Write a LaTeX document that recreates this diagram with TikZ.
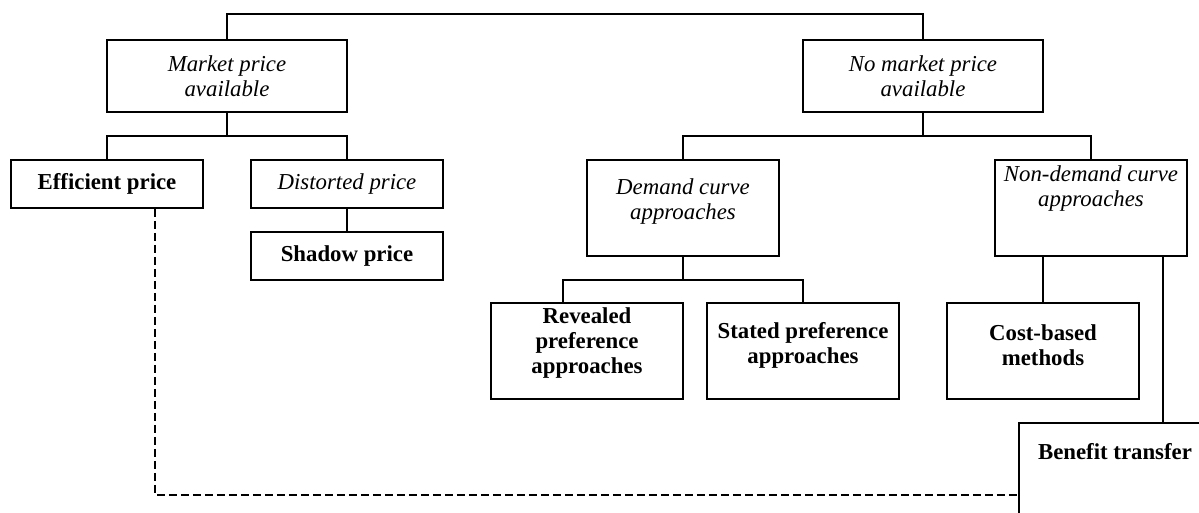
\documentclass[tikz,border=0pt]{standalone}
\usepackage{fontspec}
\setmainfont{Liberation Serif}
\begin{document}
\begin{tikzpicture}[x=1pt,y=-1pt,
  box/.style={draw, line width=1.6pt, inner sep=0pt, minimum width=192pt, minimum height=96pt},
  wbox/.style={box, minimum width=240pt, minimum height=72pt},
  sbox/.style={box, minimum height=48pt},
  txt/.style={inner sep=0pt, align=center, font=\fontsize{22.8}{25}\selectfont},
  itxt/.style={txt, font=\fontsize{22.8}{25}\selectfont\itshape},
  btxt/.style={txt, font=\fontsize{22.8}{25}\selectfont\bfseries},
  conn/.style={line width=1.6pt},
  dconn/.style={line width=1.6pt, dash pattern=on 8pt off 4pt}]
\useasboundingbox (0,0) rectangle (1199,513);
\clip (0,0) rectangle (1199,513);
% boxes
\node[wbox] (mkt) at (227,76) {};
\node[wbox] (nom) at (923,76) {};
\node[sbox] (eff) at (107,184) {};
\node[sbox] (dis) at (347,184) {};
\node[sbox] (sha) at (347,256) {};
\node[box] (dem) at (683,208) {};
\node[box] (nond) at (1091,208) {};
\node[box] (rev) at (587,351) {};
\node[box] (sta) at (803,351) {};
\node[box] (cost) at (1043,351) {};
\node[box] (ben) at (1115,471) {};
% texts
\node[itxt] (mktT) at (227,76) {Market price\\available};
\node[itxt] (nomT) at (923,76) {No market price\\available};
\node[btxt] (effT) at (107,184) {Efficient price};
\node[itxt] (disT) at (347,184) {Distorted price};
\node[btxt] (shaT) at (347,256) {Shadow price};
\node[itxt] (demT) at (683,202) {Demand curve\\approaches};
\node[itxt] (nondT) at (1091,189) {Non-demand curve\\approaches};
\node[btxt] (revT) at (587,343) {Revealed\\preference\\approaches};
\node[btxt] (staT) at (803,345.5) {Stated preference\\approaches};
\node[btxt] (costT) at (1043,345.5) {Cost-based\\methods};
\node[btxt] (benT) at (1115,452) {Benefit transfer};
% connectors
\draw[conn] (mkt.north) -- ++(0,-25) -| (nom.north);
\draw[conn] (mkt.south) -- ++(0,23) coordinate (m1);
\draw[conn] (eff.north) |- (m1) -| (dis.north);
\draw[conn] (dis.south) -- (sha.north);
\draw[conn] (nom.south) -- ++(0,23) coordinate (n1);
\draw[conn] (dem.north) |- (n1) -| (nond.north);
\draw[conn] (dem.south) -- ++(0,23) coordinate (d1);
\draw[conn] ([xshift=-24pt]rev.north) |- (d1) -| (sta.north);
\draw[conn] ([xshift=-48pt]nond.south) -- (cost.north);
\draw[conn] ([xshift=72pt]nond.south) -- ([xshift=48pt]ben.north);
\draw[dconn] ([xshift=48pt]eff.south) |- ([yshift=-24pt]ben.west);
\end{tikzpicture}
\end{document}
